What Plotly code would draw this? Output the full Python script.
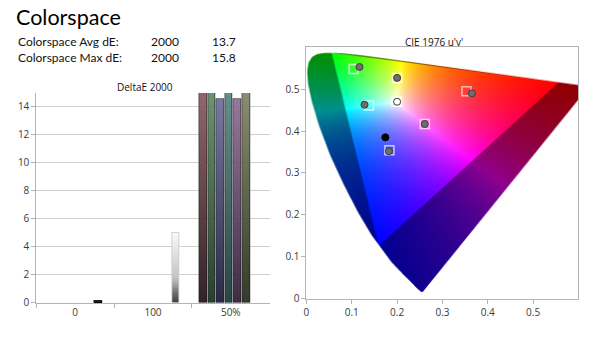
import base64
import struct
import zlib

import numpy as np
import plotly.graph_objects as go

# ---------------------------------------------------------------- data
report_title = "Colorspace"
summary_labels = ["Colorspace Avg dE:", "Colorspace Max dE:"]
summary_formula = ["2000", "2000"]
summary_values = [13.7, 15.8]
max_de = summary_values[1]

bar_groups = ["0", "100", "50%"]
gray_names = ["0", "100"]
gray_de = [0.1, 5.0]
sat_names = ["Red", "Green", "Blue", "Cyan", "Magenta", "Yellow"]
sat_de = [15.3, 15.4, 14.6, max_de, 14.6, 15.5]

point_names = ["White", "Red", "Green", "Blue", "Cyan", "Magenta", "Yellow"]
target_u = [0.199, 0.353, 0.104, 0.183, 0.138, 0.261, 0.200]
target_v = [0.470, 0.495, 0.548, 0.354, 0.461, 0.417, 0.527]
measured_u = [0.200, 0.365, 0.117, 0.182, 0.128, 0.261, 0.200]
measured_v = [0.470, 0.490, 0.553, 0.352, 0.463, 0.417, 0.527]
black_u = [0.174]
black_v = [0.385]

axis_ticks_de = [0, 2, 4, 6, 8, 10, 12, 14]
axis_ticks_uv = [0, 0.1, 0.2, 0.3, 0.4, 0.5]

# CIE 1931 2-degree spectral locus (x, y)
locus_nm = [380, 400, 420, 430, 440, 450, 460, 470, 475, 480, 485, 490, 495,
            500, 505, 510, 515, 520, 525, 530, 535, 540, 545, 550, 555, 560,
            565, 570, 575, 580, 585, 590, 595, 600, 610, 620, 630, 640, 650,
            660, 680, 700]
locus_x = [0.1741, 0.1733, 0.1714, 0.1689, 0.1644, 0.1566, 0.1440, 0.1241,
           0.1096, 0.0913, 0.0687, 0.0454, 0.0235, 0.0082, 0.0039, 0.0139,
           0.0389, 0.0743, 0.1142, 0.1547, 0.1929, 0.2296, 0.2658, 0.3016,
           0.3373, 0.3731, 0.4087, 0.4441, 0.4788, 0.5125, 0.5448, 0.5752,
           0.6029, 0.6270, 0.6658, 0.6915, 0.7079, 0.7190, 0.7260, 0.7300,
           0.7334, 0.7347]
locus_y = [0.0050, 0.0048, 0.0051, 0.0069, 0.0109, 0.0177, 0.0297, 0.0578,
           0.0868, 0.1327, 0.2007, 0.2950, 0.4127, 0.5384, 0.6548, 0.7502,
           0.8120, 0.8338, 0.8262, 0.8059, 0.7816, 0.7543, 0.7243, 0.6923,
           0.6589, 0.6245, 0.5896, 0.5547, 0.5202, 0.4866, 0.4544, 0.4242,
           0.3965, 0.3725, 0.3340, 0.3083, 0.2920, 0.2809, 0.2740, 0.2700,
           0.2666, 0.2653]

# ---------------------------------------------------------------- styles
FONT = "Open Sans"
TEXT_FONT = "Lato"
TEXT = "#111111"
TICK_TEXT = "#3a3a3a"
AXIS_GRAY = "#b4b4b4"
GRID_GRAY = "#cfcfcf"
FIG_W, FIG_H = 600, 337

sat_stops = {
    "Red": [(0.0, (52, 34, 38)), (1.0, (146, 104, 110))],
    "Green": [(0.0, (40, 64, 46)), (1.0, (110, 150, 116))],
    "Blue": [(0.0, (42, 42, 70)), (1.0, (120, 120, 162))],
    "Cyan": [(0.0, (38, 70, 72)), (1.0, (104, 146, 146))],
    "Magenta": [(0.0, (62, 44, 70)), (1.0, (150, 120, 156))],
    "Yellow": [(0.0, (52, 58, 42)), (1.0, (140, 144, 116))],
}
gray_stops = {
    "0": [(0.0, (10, 10, 10)), (1.0, (30, 30, 30))],
    "100": [(0.0, (60, 60, 60)), (0.35, (195, 195, 195)), (1.0, (250, 250, 250))],
}
gray_outline = {"0": "rgba(0,0,0,0.9)", "100": "rgba(205,205,205,0.9)"}
target_line = {
    "White": "rgba(255,255,255,0.95)", "Red": "rgba(255,190,190,0.95)",
    "Green": "rgba(205,255,205,0.95)", "Blue": "rgba(205,205,255,0.95)",
    "Cyan": "rgba(205,255,255,0.95)", "Magenta": "rgba(255,205,255,0.95)",
    "Yellow": "rgba(255,255,205,0.95)",
}
measured_fill = {n: "#6e6e6e" for n in point_names}
measured_fill["White"] = "#ffffff"


def px_x(p):
    return p / FIG_W


def px_y(p):
    return 1 - p / FIG_H


# plot areas in window pixels
BAR_L, BAR_R, BAR_T, BAR_B = 33.5, 268.0, 95.0, 309.0
CIE_L, CIE_R, CIE_T, CIE_B = 305.0, 578.3, 48.3, 305.0
UV_MAX = 0.6


def mix(stops, t):
    for (t0, c0), (t1, c1) in zip(stops[:-1], stops[1:]):
        if t <= t1:
            f = 0 if t1 == t0 else (t - t0) / (t1 - t0)
            c = [round(a + (b - a) * f) for a, b in zip(c0, c1)]
            return "rgb(%d,%d,%d)" % tuple(c)
    return "rgb(%d,%d,%d)" % tuple(stops[-1][1])


def gradient_bar(cat, value, offset, width, stops, outline, n=48):
    """A bar drawn as overlapping slices, darkest at the base."""
    bases = [value * k / n for k in range(n)]
    tops = [value - b for b in bases]
    colors = [mix(stops, (k + 0.5) / n) for k in range(n)]
    fill = go.Bar(x=[cat] * n, y=tops, base=bases, offset=offset, width=width,
                  marker=dict(color=colors, line=dict(width=0)),
                  hoverinfo="skip", showlegend=False, xaxis="x", yaxis="y")
    edge = go.Bar(x=[cat], y=[value], offset=offset, width=width,
                  marker=dict(color="rgba(0,0,0,0)", line=dict(width=1, color=outline)),
                  hoverinfo="skip", showlegend=False, xaxis="x", yaxis="y")
    return [fill, edge]


# ---------------------------------------------------------------- chromaticity background
def xy_to_uv(x, y):
    d = -2 * x + 12 * y + 3
    return 4 * x / d, 9 * y / d


def chromaticity_png(w_out, h_out, ss=2):
    lu, lv = xy_to_uv(np.array(locus_x), np.array(locus_y))
    poly_u = np.append(lu, lu[0])
    poly_v = np.append(lv, lv[0])

    gw, gh = w_out * ss, h_out * ss
    u = (np.arange(gw) + 0.5) / gw * UV_MAX
    v = UV_MAX - (np.arange(gh) + 0.5) / gh * UV_MAX
    U, V = np.meshgrid(u, v)

    inside = np.zeros(U.shape, dtype=bool)
    for i in range(len(poly_u) - 1):
        u1, v1, u2, v2 = poly_u[i], poly_v[i], poly_u[i + 1], poly_v[i + 1]
        if v1 == v2:
            continue
        cross = ((v1 > V) != (v2 > V)) & (U < (u2 - u1) * (V - v1) / (v2 - v1) + u1)
        inside ^= cross

    den = 6 * U - 16 * V + 12
    x = 9 * U / den
    y = np.maximum(4 * V / den, 1e-4)
    X = x / y
    Z = (1 - x - y) / y
    m = np.array([[1.7166512, -0.3556708, -0.2533663],
                  [-0.6666844, 1.6164812, 0.0157685],
                  [0.0176399, -0.0427706, 0.9421031]])
    rgb = np.stack([m[i, 0] * X + m[i, 1] + m[i, 2] * Z for i in range(3)], axis=-1)
    in_gamut = rgb.min(axis=-1) >= 0
    rgb = np.clip(rgb, 0, None)
    rgb = rgb / np.maximum(rgb.max(axis=-1, keepdims=True), 1e-9)
    rgb = np.where(in_gamut[..., None], rgb, rgb * 0.56)

    a = inside.astype(float)
    prem = rgb * a[..., None]
    prem = prem.reshape(h_out, ss, w_out, ss, 3).mean(axis=(1, 3))
    alpha = a.reshape(h_out, ss, w_out, ss).mean(axis=(1, 3))
    col = prem / np.maximum(alpha, 1e-9)[..., None]
    img = np.concatenate([col, alpha[..., None]], axis=-1)
    img = np.clip(np.round(img * 255), 0, 255).astype(np.uint8)

    raw = b"".join(b"\x00" + img[r].tobytes() for r in range(h_out))

    def chunk(tag, data):
        return (struct.pack(">I", len(data)) + tag + data
                + struct.pack(">I", zlib.crc32(tag + data) & 0xFFFFFFFF))

    png = (b"\x89PNG\r\n\x1a\n"
           + chunk(b"IHDR", struct.pack(">IIBBBBB", w_out, h_out, 8, 6, 0, 0, 0))
           + chunk(b"IDAT", zlib.compress(raw, 9))
           + chunk(b"IEND", b""))
    return "data:image/png;base64," + base64.b64encode(png).decode()


# ---------------------------------------------------------------- figure
fig = go.Figure()

# grayscale bars
gray_offsets = {"0": 0.246, "100": 0.253}
gray_widths = {"0": 0.106, "100": 0.088}
for name, val in zip(gray_names, gray_de):
    for tr in gradient_bar(name, val, gray_offsets[name], gray_widths[name],
                           gray_stops[name], gray_outline[name]):
        fig.add_trace(tr)

# saturation bars in the 50% group
slot_w = 0.11
for i, (name, val) in enumerate(zip(sat_names, sat_de)):
    for tr in gradient_bar("50%", val, -0.402 + i * slot_w, slot_w - 0.012,
                           sat_stops[name], "rgba(20,20,20,0.55)"):
        fig.add_trace(tr)

# target squares and measured points
fig.add_trace(go.Scatter(
    x=target_u, y=target_v, mode="markers", xaxis="x2", yaxis="y2",
    text=point_names, showlegend=False,
    marker=dict(symbol="square-open", size=9,
                color=[target_line[n] for n in point_names],
                line=dict(width=1.5))))
fig.add_trace(go.Scatter(
    x=measured_u, y=measured_v, mode="markers", xaxis="x2", yaxis="y2",
    text=point_names, showlegend=False,
    marker=dict(symbol="circle", size=7,
                color=[measured_fill[n] for n in point_names],
                line=dict(width=1, color="#3c3c3c"))))
fig.add_trace(go.Scatter(
    x=black_u, y=black_v, mode="markers", xaxis="x2", yaxis="y2",
    showlegend=False, text=["Black"],
    marker=dict(symbol="circle", size=7, color="#000000",
                line=dict(width=1, color="#000000"))))

tick_font = dict(family=FONT, size=10, color=TICK_TEXT)

fig.update_layout(
    width=FIG_W, height=FIG_H, autosize=False,
    margin=dict(l=0, r=0, t=0, b=0),
    paper_bgcolor="white", plot_bgcolor="rgba(0,0,0,0)",
    barmode="overlay", bargap=0,
    font=dict(family=FONT, color=TEXT),
    xaxis=dict(domain=[px_x(BAR_L), px_x(BAR_R)], type="category",
               categoryorder="array", categoryarray=bar_groups,
               range=[-0.5, 2.5], tickson="boundaries", ticks="outside",
               ticklen=4, tickcolor=AXIS_GRAY, showline=True, linecolor=AXIS_GRAY,
               showgrid=False, tickfont=tick_font, fixedrange=True),
    yaxis=dict(domain=[px_y(BAR_B), px_y(BAR_T)], range=[0, 15],
               tickvals=axis_ticks_de, ticks="outside", ticklen=4,
               tickcolor=AXIS_GRAY, showline=True, linecolor=AXIS_GRAY,
               showgrid=True, gridcolor=GRID_GRAY, gridwidth=1,
               zeroline=False, tickfont=tick_font, fixedrange=True),
    xaxis2=dict(domain=[px_x(CIE_L), px_x(CIE_R)], anchor="y2",
                range=[0, UV_MAX], tickvals=axis_ticks_uv, ticks="outside",
                ticklen=4, tickcolor=AXIS_GRAY, showline=True, mirror=True,
                linecolor=AXIS_GRAY, showgrid=False, zeroline=False,
                tickfont=tick_font, fixedrange=True),
    yaxis2=dict(domain=[px_y(CIE_B), px_y(CIE_T)], anchor="x2",
                range=[0, UV_MAX], tickvals=axis_ticks_uv, ticks="outside",
                ticklen=4, tickcolor=AXIS_GRAY, showline=True, mirror=True,
                linecolor=AXIS_GRAY, showgrid=False, zeroline=False,
                tickfont=tick_font, fixedrange=True),
    images=[dict(source=chromaticity_png(546, 514), xref="x2", yref="y2",
                 x=0, y=UV_MAX, sizex=UV_MAX, sizey=UV_MAX,
                 xanchor="left", yanchor="top", sizing="stretch",
                 layer="below")],
)

notes = [
    dict(text=report_title, x=px_x(11), y=px_y(17), xanchor="left",
         yanchor="middle", font=dict(family=TEXT_FONT, size=21.5, color="#000000")),
    dict(text="DeltaE 2000", x=px_x(143), y=px_y(89), xanchor="center",
         yanchor="middle", font=dict(size=10, color=TEXT)),
    dict(text="CIE 1976 u'v'", x=px_x(433), y=px_y(42.5), xanchor="center",
         yanchor="middle", font=dict(size=10, color=TEXT)),
]
row_y = [42.5, 58.5]
for label, formula, val, yy in zip(summary_labels, summary_formula, summary_values, row_y):
    for txt, xx in ((label, 13), (formula, 147), ("%.1f" % val, 208)):
        notes.append(dict(text=txt, x=px_x(xx), y=px_y(yy), xanchor="left",
                          yanchor="middle",
                          font=dict(family=TEXT_FONT, size=12, color=TEXT)))
for n in notes:
    n.update(xref="paper", yref="paper", showarrow=False)
fig.update_layout(annotations=notes)

fig.write_html("out.html")
